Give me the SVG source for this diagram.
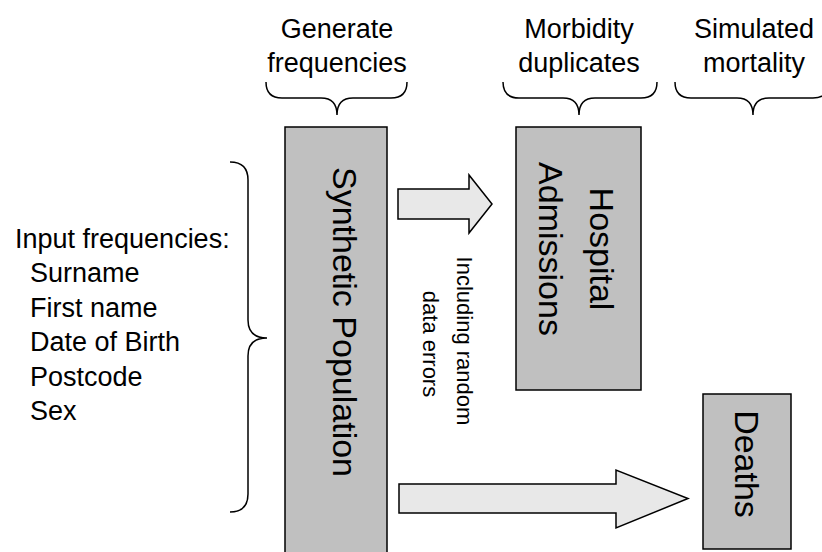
<svg xmlns="http://www.w3.org/2000/svg" width="822" height="552" viewBox="0 0 822 552">
<style>
text{font-family:"Liberation Sans",Arial,sans-serif;fill:#000}
.lbl{font-size:27px}
.mid{text-anchor:middle}
.big{font-size:34px;text-anchor:middle}
.sm{font-size:22px;text-anchor:middle}
.box{fill:#c0c0c0;stroke:#000;stroke-width:1.5}
.arr{fill:#e8e8e8;stroke:#000;stroke-width:1.5;stroke-linejoin:miter}
.brace{fill:none;stroke:#000;stroke-width:1.5}
</style>
<rect width="822" height="552" fill="#fff"/>
<g id="labels">
<text class="lbl mid" x="337" y="38">Generate</text>
<text class="lbl mid" x="337" y="72">frequencies</text>
<text class="lbl mid" x="579" y="38">Morbidity</text>
<text class="lbl mid" x="579" y="72">duplicates</text>
<text class="lbl mid" x="754" y="38">Simulated</text>
<text class="lbl mid" x="754" y="72">mortality</text>
</g>
<g id="braces">
<path class="brace" d="M266,82 Q266,98 282,98 L321,98 Q337,98 337,115 Q337,98 353,98 L391,98 Q407,98 407,82"/>
<path class="brace" d="M503,82 Q503,98 519,98 L563,98 Q579,98 579,115 Q579,98 595,98 L641,98 Q657,98 657,82"/>
<path class="brace" d="M675,82 Q675,98 691,98 L737,98 Q753,98 753,115 Q753,98 769,98 L813,98 Q829,98 829,82"/>
<path class="brace" d="M230,162 Q248,162 248,180 L248,320 Q248,338 267,338 Q248,338 248,356 L248,494 Q248,512 230,512"/>
</g>
<g id="inputs">
<text class="lbl" x="15" y="247.5">Input frequencies:</text>
<text class="lbl" x="30" y="282">Surname</text>
<text class="lbl" x="30" y="316.5">First name</text>
<text class="lbl" x="30" y="351">Date of Birth</text>
<text class="lbl" x="30" y="385.5">Postcode</text>
<text class="lbl" x="30" y="420">Sex</text>
</g>
<g id="synthetic">
<rect class="box" x="285" y="127" width="102" height="440"/>
<text class="big" transform="translate(333,322) rotate(90)">Synthetic Population</text>
</g>
<g id="hospital">
<rect class="box" x="516" y="127" width="125" height="263"/>
<text class="big" transform="translate(590,249) rotate(90)">Hospital</text>
<text class="big" transform="translate(539,249) rotate(90)">Admissions</text>
</g>
<g id="deaths">
<rect class="box" x="703" y="394" width="88" height="155"/>
<text class="big" transform="translate(735,464) rotate(90)">Deaths</text>
</g>
<g id="connectors">
<polygon class="arr" points="398,189 469,189 469,175 492,204 469,233 469,219 398,219"/>
<polygon class="arr" points="399,484 616,484 616,470 688,498.5 616,528 616,513 399,513"/>
<text class="sm" transform="translate(457,341) rotate(90)">Including random</text>
<text class="sm" transform="translate(423,344) rotate(90)">data errors</text>
</g>
</svg>
